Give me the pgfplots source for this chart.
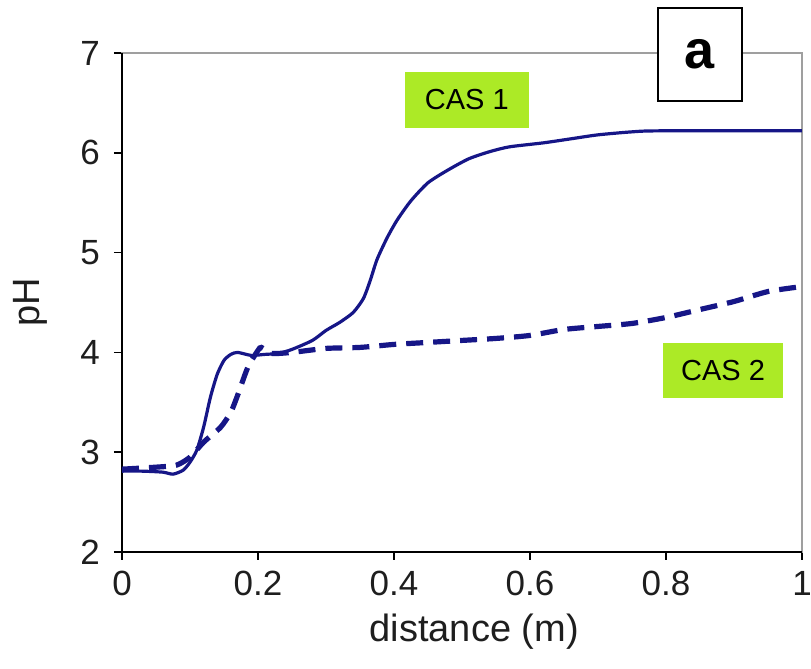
\documentclass[border=0pt]{standalone}
\usepackage{pgfplots}
\pgfplotsset{compat=1.18}
\usepackage{fontspec}
\setmainfont{Liberation Sans}
\definecolor{curve}{RGB}{22,22,135}
\definecolor{labgreen}{RGB}{172,234,38}
\definecolor{txt}{RGB}{30,30,30}
\begin{document}
\begin{tikzpicture}[x=1pt,y=1pt]
\useasboundingbox (-61,-58.5) rectangle (344.5,276);
\begin{axis}[
  at={(0,0)}, anchor=south west,
  scale only axis, width=340pt, height=249.5pt,
  xmin=0, xmax=1, ymin=2, ymax=7,
  xtick={0,0.2,0.4,0.6,0.8,1}, ytick={2,3,4,5,6,7},
  xticklabels={0,0.2,0.4,0.6,0.8,1},
  xtick pos=bottom, ytick pos=left, tick align=outside,
  major tick length=4pt,
  tick style={black, line width=0.7pt},
  axis line style={gray!75, line width=0.8pt},
  /pgf/number format/assume math mode=true,
  ticklabel style={font=\fontsize{17.5}{20}\selectfont, text=txt},
  xticklabel style={yshift=-2pt},
  yticklabel style={xshift=-3.5pt},
  xlabel={distance (m)}, ylabel={pH},
  label style={font=\fontsize{19}{22}\selectfont, text=txt},
  xlabel style={at={(axis description cs:0.518,-0.16)}, anchor=center},
  ylabel style={at={(axis description cs:-0.135,0.5)}, anchor=center},
  clip=false,
]
\draw[black, line width=0.8pt] (rel axis cs:0,1) -- (rel axis cs:0,0) -- (rel axis cs:1,0);
\addplot[curve, line width=1.6pt, smooth, tension=0.4] coordinates {
(0,2.81) (0.03,2.81) (0.06,2.80) (0.075,2.78) (0.09,2.82) (0.10,2.90) (0.11,3.02)
(0.12,3.25) (0.13,3.55) (0.14,3.78) (0.15,3.92) (0.16,3.98) (0.17,4.00) (0.19,3.97)
(0.21,3.98) (0.23,3.99) (0.25,4.03) (0.28,4.12) (0.30,4.22) (0.32,4.30) (0.34,4.40)
(0.355,4.54) (0.365,4.72) (0.375,4.93) (0.39,5.15) (0.405,5.33) (0.425,5.52)
(0.45,5.70) (0.48,5.83) (0.51,5.94) (0.54,6.01) (0.57,6.06) (0.62,6.10) (0.66,6.14)
(0.70,6.18) (0.75,6.21) (0.79,6.22) (1.0,6.22)
};
\addplot[curve, line width=2.6pt, dash pattern=on 8.5pt off 5pt, smooth, tension=0.4] coordinates {
(0,2.83) (0.05,2.85) (0.08,2.87) (0.10,2.95) (0.12,3.10) (0.145,3.25) (0.16,3.40)
(0.17,3.57) (0.185,3.85) (0.20,4.02) (0.205,4.05) (0.22,3.99) (0.25,4.00) (0.30,4.04)
(0.35,4.05) (0.40,4.08) (0.45,4.10) (0.50,4.12) (0.55,4.14) (0.60,4.17) (0.65,4.23)
(0.70,4.26) (0.75,4.29) (0.80,4.35) (0.85,4.43) (0.90,4.51) (0.95,4.61) (1.0,4.66)
};
\node[fill=labgreen, minimum width=62pt, minimum height=28pt, inner sep=0pt,
  font=\fontsize{14.5}{16}\selectfont] at (axis cs:0.507,6.53) {CAS 1};
\node[fill=labgreen, minimum width=60pt, minimum height=27.5pt, inner sep=0pt,
  font=\fontsize{14.5}{16}\selectfont] at (axis cs:0.884,3.82) {CAS 2};
\node[draw=black, fill=white, line width=0.9pt, minimum width=42pt, minimum height=46.5pt,
  inner sep=0pt, font=\fontsize{27}{30}\selectfont\bfseries] at (axis cs:0.85,6.985) {a};
\end{axis}
\end{tikzpicture}
\end{document}
